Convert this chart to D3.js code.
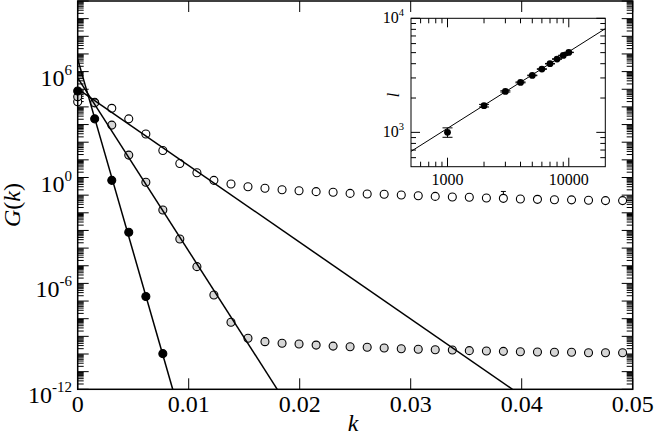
<!DOCTYPE html>
<html><head><meta charset="utf-8">
<script src="https://cdn.jsdelivr.net/npm/d3@7"></script>
</head><body style="margin:0">
<svg id="c" width="654" height="435"></svg>
<script>
// ---------------- data ----------------
const kValues = [0,0.00153,0.00307,0.00460,0.00614,0.00767,0.00920,0.01074,0.01227,0.01381,
  0.01534,0.01687,0.01841,0.01994,0.02148,0.02301,0.02454,0.02608,0.02761,0.02915,
  0.03068,0.03221,0.03375,0.03528,0.03682,0.03835,0.03988,0.04142,0.04295,0.04449,
  0.04602,0.04755,0.04909];
const blackG = [7.9e4, 2.1e3, 0.69, 7.9e-4, 1.8e-7, 1.05e-10];
const grayG = [3.8e4,1.7e4,930,18.6,0.54,0.0145,3.3e-4,8.9e-6,2.2e-7,6.3e-9,
  7.8e-10,5.0e-10,4.1e-10,3.7e-10,3.2e-10,2.8e-10,2.6e-10,2.4e-10,2.2e-10,2.0e-10,
  1.86e-10,1.74e-10,1.70e-10,1.55e-10,1.48e-10,1.41e-10,1.35e-10,1.29e-10,1.26e-10,1.26e-10,
  1.17e-10,1.17e-10,1.17e-10];
const openG = [1.95e4,1.8e4,8.3e3,2.1e3,290,34,6.2,1.86,0.69,0.43,
  0.30,0.245,0.204,0.178,0.158,0.145,0.126,0.117,0.112,0.102,
  0.093,0.085,0.079,0.076,0.069,0.066,0.060,0.058,0.055,0.054,
  0.051,0.049,0.049];
const openErr = [0,0,0,0,0,0,0,0,0,0,0,0,0,0,0,0,0,0,0,0,0,0,0,0,0,0.096,0,0,0,0,0,0,0];
// exponential fits: G(k) from k=0 to where each line leaves the frame
const fitK0 = [0, 0, 0];
const fitG0 = [5.1e6, 4.4e5, 1.05e5];
const fitK1 = [0.00856, 0.01798, 0.03917];
const fitG1 = [1e-12, 1e-12, 1e-12];
const xTicks = [0, 0.01, 0.02, 0.03, 0.04, 0.05];
const yLabelExps = [6, 0, -6, -12];

// inset
const insetN = [1000,2000,3000,4000,5000,6000,7000,8000,9000,10000];
const insetL = [1000,1714,2287,2742,3157,3590,4000,4395,4730,5024];
const insetErr = [95,45,30,25,20,20,20,20,20,20];
const insetFitN = [500, 20000];
const insetFitL = [681, 8110];
const insetXLabels = [1000, 10000];
const insetYLabelExps = [3, 4];

// ---------------- drawing ----------------
const FONT = "Liberation Serif";
const svg = d3.select("#c");
const X0 = 77.7, X1 = 632.7, Y0 = 1, Y1 = 389.3;
const x = d3.scaleLinear().domain([0, 0.05]).range([X0, X1]);
const y = d3.scaleLog().domain([1e-12, 1e10]).range([Y1, Y0]);

const g = svg.append("g");

// y ticks (both sides, inward)
const decades = d3.range(-12, 11);
const minors = [];
decades.slice(0, -1).forEach(e => { for (let m = 2; m <= 9; m++) minors.push(m * Math.pow(10, e)); });
const tickG = g.append("g").attr("stroke", "#000").attr("stroke-width", 1);
decades.forEach(e => {
  const yy = y(Math.pow(10, e));
  tickG.append("line").attr("x1", X0).attr("x2", X0 + 11).attr("y1", yy).attr("y2", yy);
  tickG.append("line").attr("x1", X1).attr("x2", X1 - 11).attr("y1", yy).attr("y2", yy);
});
minors.forEach(v => {
  const yy = y(v);
  tickG.append("line").attr("x1", X0).attr("x2", X0 + 6).attr("y1", yy).attr("y2", yy);
  tickG.append("line").attr("x1", X1).attr("x2", X1 - 6).attr("y1", yy).attr("y2", yy);
});
xTicks.forEach(t => {
  const xx = x(t);
  tickG.append("line").attr("x1", xx).attr("x2", xx).attr("y1", Y1).attr("y2", Y1 - 11);
  tickG.append("line").attr("x1", xx).attr("x2", xx).attr("y1", Y0).attr("y2", Y0 + 11);
});

// tick labels
g.selectAll(".xl").data(xTicks).enter().append("text")
  .attr("font-family", FONT)
  .attr("x", d => x(d)).attr("y", 411.5).attr("text-anchor", "middle")
  .attr("font-size", 24).text(d => d === 0 ? "0" : d3.format(".2f")(d));
yLabelExps.forEach(e => {
  const t = g.append("text").attr("font-family", FONT).attr("x", 72).attr("y", y(Math.pow(10, e)) + 14)
    .attr("text-anchor", "end").attr("font-size", 24);
  t.append("tspan").text("10");
  t.append("tspan").attr("font-size", 15).attr("dy", -11).text(String(e));
});

// axis titles
const gt = g.append("text").attr("font-family", FONT).attr("transform", "translate(20,205) rotate(-90)")
  .attr("text-anchor", "middle").attr("font-size", 24);
gt.append("tspan").attr("font-style", "italic").text("G");
gt.append("tspan").text("(");
gt.append("tspan").attr("font-style", "italic").text("k");
gt.append("tspan").text(")");
g.append("text").attr("font-family", FONT).attr("x", 353).attr("y", 431).attr("text-anchor", "middle")
  .attr("font-size", 24).attr("font-style", "italic").text("k");

// markers
function drawSeries(vals, fill, errs) {
  const pts = vals.map((v, i) => ({k: kValues[i], v, e: errs ? errs[i] : 0}));
  const eg = g.append("g").attr("stroke", "#000").attr("stroke-width", 1);
  pts.filter(p => p.e > 0).forEach(p => {
    const xx = x(p.k), yt = y(p.v + p.e);
    eg.append("line").attr("x1", xx).attr("x2", xx).attr("y1", y(p.v)).attr("y2", yt);
    eg.append("line").attr("x1", xx - 2.5).attr("x2", xx + 2.5).attr("y1", yt).attr("y2", yt);
  });
  g.append("g").selectAll("circle").data(pts).enter().append("circle")
    .attr("cx", d => x(d.k)).attr("cy", d => y(d.v)).attr("r", 4)
    .attr("fill", fill).attr("stroke", "#000").attr("stroke-width", 1.1);
}
drawSeries(openG, "#fff", openErr);
drawSeries(grayG, "#d6d6d6", null);
drawSeries(blackG, "#000", null);

// fit lines
const line = d3.line().x(d => x(d[0])).y(d => y(d[1]));
fitK0.forEach((k0, i) => {
  g.append("path").attr("d", line([[k0, fitG0[i]], [fitK1[i], fitG1[i]]]))
    .attr("fill", "none").attr("stroke", "#000").attr("stroke-width", 1.5);
});

// frame
g.append("rect").attr("x", X0).attr("y", Y0).attr("width", X1 - X0).attr("height", Y1 - Y0)
  .attr("fill", "none").attr("stroke", "#000").attr("stroke-width", 1.5);

// ---------------- inset ----------------
const IX0 = 411, IX1 = 605.3, IY0 = 18.3, IY1 = 166.7;
const xi = d3.scaleLog().domain([500, 20000]).range([IX0, IX1]);
const yi = d3.scaleLog().domain([500, 10000]).range([IY1, IY0]);
const ig = svg.append("g");
ig.append("rect").attr("x", IX0).attr("y", IY0).attr("width", IX1 - IX0).attr("height", IY1 - IY0)
  .attr("fill", "#fff");
const it = ig.append("g").attr("stroke", "#000").attr("stroke-width", 1);
const logTicks = [];
[2, 3].forEach(e => { for (let m = 1; m <= 9; m++) logTicks.push(m * Math.pow(10, e)); });
[4].forEach(e => { for (let m = 1; m <= 2; m++) logTicks.push(m * Math.pow(10, e)); });
logTicks.filter(v => v > 500 && v < 20000).forEach(v => {
  const major = Math.abs(Math.log10(v) % 1) < 1e-9;
  const len = major ? 9 : 5;
  const xx = xi(v);
  it.append("line").attr("x1", xx).attr("x2", xx).attr("y1", IY1).attr("y2", IY1 - len);
  it.append("line").attr("x1", xx).attr("x2", xx).attr("y1", IY0).attr("y2", IY0 + len);
});
logTicks.filter(v => v > 500 && v <= 10000).forEach(v => {
  const major = Math.abs(Math.log10(v) % 1) < 1e-9;
  const len = major ? 9 : 5;
  const yy = yi(v);
  it.append("line").attr("x1", IX0).attr("x2", IX0 + len).attr("y1", yy).attr("y2", yy);
  it.append("line").attr("x1", IX1).attr("x2", IX1 - len).attr("y1", yy).attr("y2", yy);
});
ig.selectAll(".ixl").data(insetXLabels).enter().append("text")
  .attr("font-family", FONT)
  .attr("x", d => xi(d)).attr("y", 185).attr("text-anchor", "middle")
  .attr("font-size", 16).text(d => String(d));
insetYLabelExps.forEach(e => {
  const t = ig.append("text").attr("font-family", FONT).attr("x", 404).attr("y", yi(Math.pow(10, e)) + 5)
    .attr("text-anchor", "end").attr("font-size", 16);
  t.append("tspan").text("10");
  t.append("tspan").attr("font-size", 10.5).attr("dy", -7).text(String(e));
});
ig.append("text").attr("font-family", FONT).attr("transform", "translate(399,95) rotate(-90)")
  .attr("text-anchor", "middle").attr("font-size", 16).attr("font-style", "italic").text("l");

// inset fit
const iline = d3.line().x(d => xi(d[0])).y(d => yi(d[1]));
ig.append("path").attr("d", iline(insetFitN.map((n, i) => [n, insetFitL[i]])))
  .attr("fill", "none").attr("stroke", "#000").attr("stroke-width", 1);
// inset error bars + points
const ie = ig.append("g").attr("stroke", "#000").attr("stroke-width", 1);
insetN.forEach((n, i) => {
  const xx = xi(n), ya = yi(insetL[i] + insetErr[i]), yb = yi(insetL[i] - insetErr[i]);
  ie.append("line").attr("x1", xx).attr("x2", xx).attr("y1", ya).attr("y2", yb);
  ie.append("line").attr("x1", xx - 5).attr("x2", xx + 5).attr("y1", ya).attr("y2", ya);
  ie.append("line").attr("x1", xx - 5).attr("x2", xx + 5).attr("y1", yb).attr("y2", yb);
});
ig.selectAll("circle").data(insetN).enter().append("circle")
  .attr("cx", d => xi(d)).attr("cy", (d, i) => yi(insetL[i])).attr("r", 3.4).attr("fill", "#000");
ig.append("rect").attr("x", IX0).attr("y", IY0).attr("width", IX1 - IX0).attr("height", IY1 - IY0)
  .attr("fill", "none").attr("stroke", "#000").attr("stroke-width", 1);
</script>
</body></html>
